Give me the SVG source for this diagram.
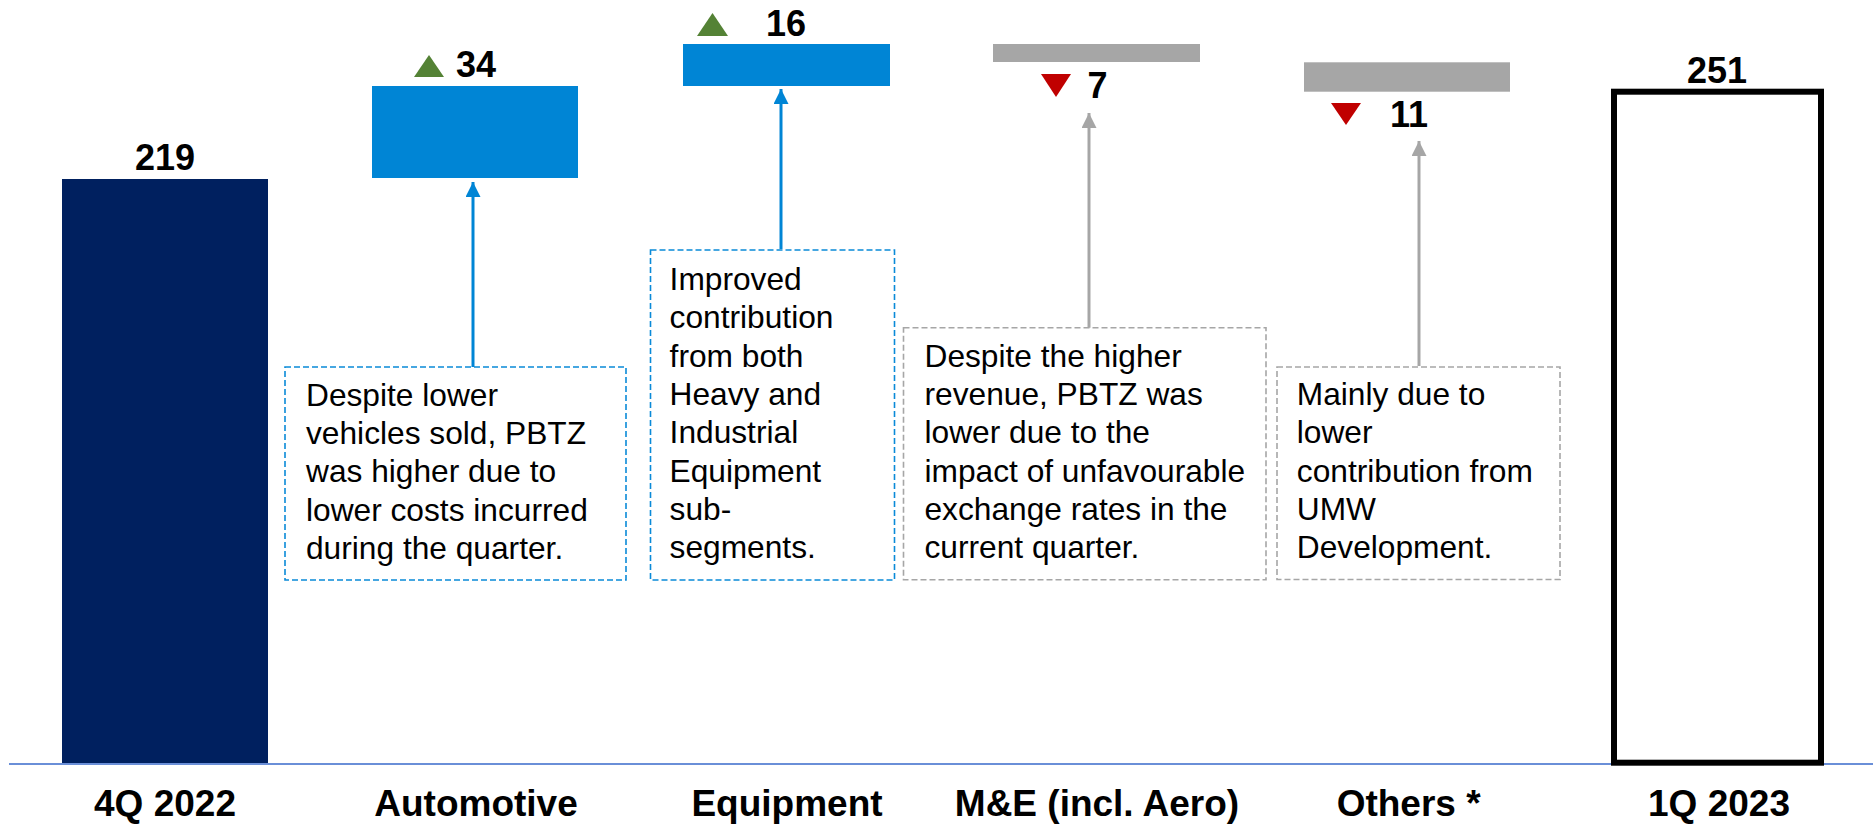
<svg xmlns="http://www.w3.org/2000/svg" width="1873" height="825" viewBox="0 0 1873 825">
<style>
.val{font-family:"Liberation Sans",Arial,sans-serif;font-weight:bold;font-size:36px;fill:#000}
.cat{font-family:"Liberation Sans",Arial,sans-serif;font-weight:bold;font-size:37px;fill:#000;text-anchor:middle}
.note{font-family:"Liberation Sans",Arial,sans-serif;font-size:31.7px;fill:#000}
.boxb{fill:#fff;stroke:#0A8AD8;stroke-width:1.6;stroke-dasharray:6 3}
.boxg{fill:#fff;stroke:#A6A6A6;stroke-width:1.6;stroke-dasharray:6 3}
.blue{fill:#0085D5}
.gray{fill:#A6A6A6}
.up{fill:#548235}
.down{fill:#C00000}
</style>
<defs>
<marker id="ab" markerUnits="userSpaceOnUse" markerWidth="16" markerHeight="16" refX="15" refY="7.5" orient="auto"><path d="M0,0 L15,7.5 L0,15 Z" fill="#0085D5"/></marker>
<marker id="ag" markerUnits="userSpaceOnUse" markerWidth="16" markerHeight="16" refX="15" refY="7.5" orient="auto"><path d="M0,0 L15,7.5 L0,15 Z" fill="#A6A6A6"/></marker>
</defs>
<rect width="1873" height="825" fill="#fff"/>

<g id="axis"><line x1="9" y1="764" x2="1873" y2="764" stroke="#6A8FD8" stroke-width="2"/></g>

<g id="bar-4q2022">
<rect x="62" y="179" width="206" height="584" fill="#00205F"/>
<text class="val" x="165" y="170" text-anchor="middle">219</text>
<text class="cat" x="165" y="816">4Q 2022</text>
</g>

<g id="bar-automotive">
<rect class="blue" x="372" y="86" width="206" height="92"/>
<path class="up" d="M414,77 L429,55 L444,77 Z"/>
<text class="val" x="456" y="77">34</text>
<text class="cat" x="476" y="816">Automotive</text>
</g>

<g id="bar-equipment">
<rect class="blue" x="683" y="44" width="207" height="42"/>
<path class="up" d="M697,36 L712.5,13 L728,36 Z"/>
<text class="val" x="766" y="35.7">16</text>
<text class="cat" x="787" y="816">Equipment</text>
</g>

<g id="bar-me">
<rect class="gray" x="993" y="44" width="207" height="18"/>
<path class="down" d="M1041,74 L1071,74 L1056,97 Z"/>
<text class="val" x="1087.5" y="98">7</text>
<text class="cat" x="1097" y="816">M&amp;E (incl. Aero)</text>
</g>

<g id="bar-others">
<rect class="gray" x="1304" y="62.3" width="206" height="29.4"/>
<path class="down" d="M1331,103 L1361,103 L1346,125 Z"/>
<text class="val" x="1390" y="127">11</text>
<text class="cat" x="1408.6" y="816">Others *</text>
</g>

<g id="bar-1q2023">
<rect x="1614" y="91.7" width="207" height="671" fill="none" stroke="#000" stroke-width="6"/>
<text class="val" x="1717" y="83" text-anchor="middle">251</text>
<text class="cat" x="1719" y="816">1Q 2023</text>
</g>

<g id="connectors">
<line x1="473" y1="368" x2="473" y2="182" stroke="#0085D5" stroke-width="3" marker-end="url(#ab)"/>
<line x1="781" y1="249" x2="781" y2="89" stroke="#0085D5" stroke-width="3" marker-end="url(#ab)"/>
<line x1="1089" y1="328" x2="1089" y2="113" stroke="#A6A6A6" stroke-width="3" marker-end="url(#ag)"/>
<line x1="1419" y1="366" x2="1419" y2="141" stroke="#A6A6A6" stroke-width="3" marker-end="url(#ag)"/>
</g>

<g id="note-automotive">
<rect class="boxb" x="285" y="367" width="341" height="213"/>
<text class="note" x="306"><tspan x="306" y="405.5">Despite lower</tspan><tspan x="306" y="443.8">vehicles sold, PBTZ</tspan><tspan x="306" y="482.2">was higher due to</tspan><tspan x="306" y="520.5">lower costs incurred</tspan><tspan x="306" y="558.8">during the quarter.</tspan></text>
</g>

<g id="note-equipment">
<rect class="boxb" x="650.5" y="250" width="244" height="330"/>
<text class="note"><tspan x="669.6" y="290">Improved</tspan><tspan x="669.6" y="328.3">contribution</tspan><tspan x="669.6" y="366.7">from both</tspan><tspan x="669.6" y="405">Heavy and</tspan><tspan x="669.6" y="443.3">Industrial</tspan><tspan x="669.6" y="481.7">Equipment</tspan><tspan x="669.6" y="520">sub-</tspan><tspan x="669.6" y="558.3">segments.</tspan></text>
</g>

<g id="note-me">
<rect class="boxg" x="903.5" y="327.7" width="362.5" height="252"/>
<text class="note"><tspan x="924.5" y="366.7">Despite the higher</tspan><tspan x="924.5" y="405">revenue, PBTZ was</tspan><tspan x="924.5" y="443.3">lower due to the</tspan><tspan x="924.5" y="481.7">impact of unfavourable</tspan><tspan x="924.5" y="520">exchange rates in the</tspan><tspan x="924.5" y="558.3">current quarter.</tspan></text>
</g>

<g id="note-others">
<rect class="boxg" x="1277" y="367" width="283" height="212.5"/>
<text class="note"><tspan x="1296.8" y="405">Mainly due to</tspan><tspan x="1296.8" y="443.3">lower</tspan><tspan x="1296.8" y="481.7">contribution from</tspan><tspan x="1296.8" y="520">UMW</tspan><tspan x="1296.8" y="558.3">Development.</tspan></text>
</g>
</svg>
